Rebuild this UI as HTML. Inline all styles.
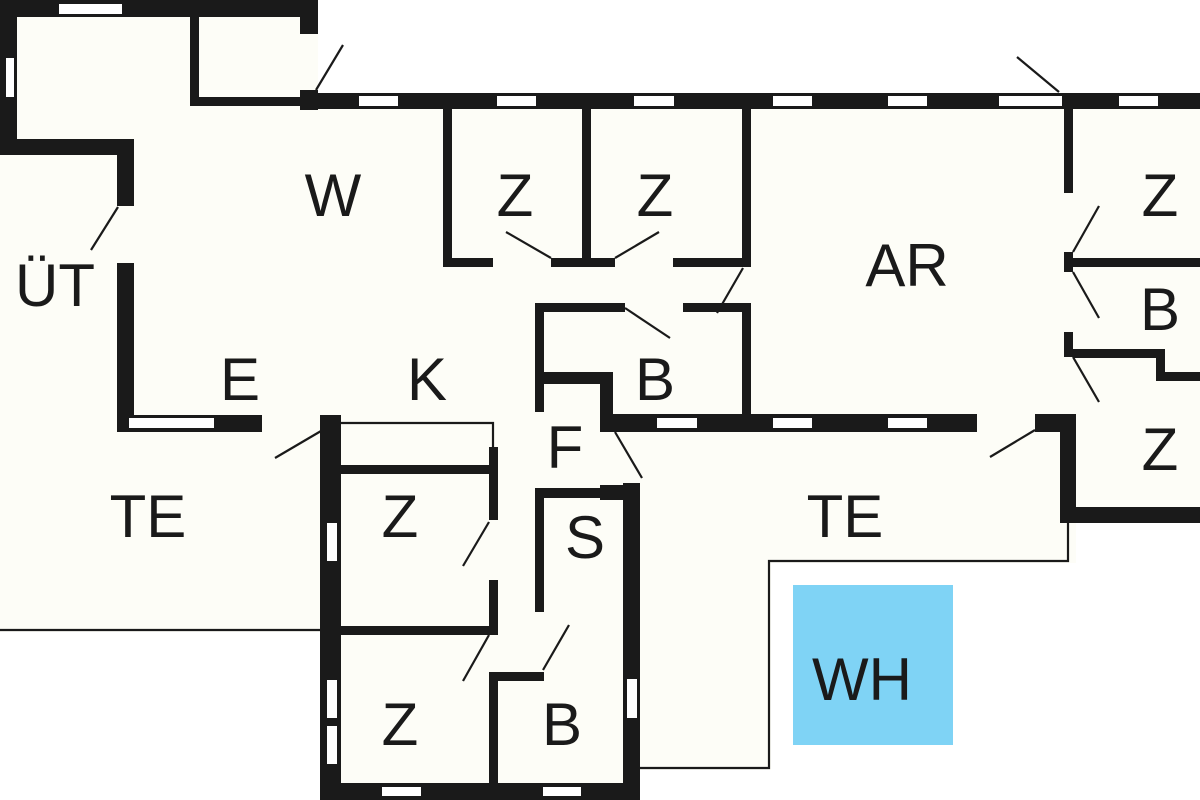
<!DOCTYPE html>
<html><head><meta charset="utf-8"><style>
html,body{margin:0;padding:0;background:#fff;width:1200px;height:800px;overflow:hidden}
svg{display:block}
text{font-family:"Liberation Sans",sans-serif;font-size:60px;fill:#1a1a1a;text-anchor:middle}
</style></head><body>
<svg width="1200" height="800" viewBox="0 0 1200 800" xmlns="http://www.w3.org/2000/svg">
<!-- cream interior -->
<rect x="0" y="0" width="1200" height="800" fill="#fdfdf7"/>
<rect x="318" y="0" width="882" height="93" fill="#fff"/>
<rect x="1076" y="523" width="124" height="277" fill="#fff"/>
<rect x="771" y="563" width="429" height="237" fill="#fff"/>
<rect x="0" y="632" width="320" height="168" fill="#fff"/>
<rect x="640" y="770" width="131" height="30" fill="#fff"/>
<g fill="#1a1a1a">
<!-- top-left block -->
<rect x="0" y="0" width="318" height="17"/>
<rect x="300" y="0" width="18" height="34"/>
<rect x="0" y="0" width="17" height="155"/>
<rect x="0" y="139" width="134" height="16"/>
<rect x="117" y="139" width="17" height="67"/>
<rect x="117" y="263" width="17" height="169"/>
<rect x="117" y="415" width="145" height="17"/>
<rect x="190" y="17" width="9" height="89"/>
<rect x="190" y="97" width="110" height="9"/>
<!-- main top wall -->
<rect x="300" y="90" width="18" height="20"/>
<rect x="300" y="93" width="900" height="16"/>
<!-- Z rooms top -->
<rect x="443" y="109" width="9" height="158"/>
<rect x="443" y="258" width="50" height="9"/>
<rect x="551" y="258" width="64" height="9"/>
<rect x="582" y="109" width="9" height="158"/>
<rect x="673" y="258" width="78" height="9"/>
<rect x="742" y="109" width="9" height="158"/>
<rect x="742" y="303" width="9" height="129"/>
<!-- B box -->
<rect x="535" y="303" width="90" height="9"/>
<rect x="683" y="303" width="68" height="9"/>
<rect x="535" y="303" width="9" height="109"/>
<rect x="540" y="372" width="73" height="12"/>
<rect x="600" y="372" width="13" height="60"/>
<rect x="600" y="414" width="377" height="18"/>
<!-- AR right side -->
<rect x="1064" y="109" width="9" height="84"/>
<rect x="1064" y="252" width="9" height="20"/>
<rect x="1073" y="258" width="127" height="9"/>
<rect x="1064" y="332" width="9" height="25"/>
<rect x="1073" y="349" width="92" height="9"/>
<rect x="1156" y="349" width="9" height="32"/>
<rect x="1156" y="372" width="44" height="9"/>
<rect x="1035" y="414" width="41" height="18"/>
<rect x="1060" y="414" width="16" height="109"/>
<rect x="1060" y="507" width="140" height="16"/>
<!-- left lower block -->
<rect x="320" y="415" width="21" height="385"/>
<rect x="320" y="783" width="320" height="17"/>
<rect x="341" y="465" width="157" height="9"/>
<rect x="341" y="626" width="157" height="9"/>
<rect x="489" y="447" width="9" height="73"/>
<rect x="489" y="580" width="9" height="55"/>
<rect x="489" y="672" width="9" height="111"/>
<rect x="489" y="672" width="55" height="9"/>
<!-- S -->
<rect x="535" y="488" width="9" height="124"/>
<rect x="535" y="488" width="70" height="10"/>
<rect x="600" y="485" width="23" height="15"/>
<rect x="623" y="483" width="17" height="317"/>
</g>
<!-- windows -->
<g fill="#fff">
<rect x="59" y="4" width="63" height="10"/>
<rect x="6" y="58" width="8" height="39"/>
<rect x="129" y="418" width="85" height="10"/>
<rect x="359" y="96" width="39" height="10"/>
<rect x="497" y="96" width="39" height="10"/>
<rect x="634" y="96" width="40" height="10"/>
<rect x="773" y="96" width="39" height="10"/>
<rect x="888" y="96" width="39" height="10"/>
<rect x="999" y="96" width="63" height="10"/>
<rect x="1119" y="96" width="39" height="10"/>
<rect x="657" y="418" width="40" height="10"/>
<rect x="773" y="418" width="39" height="10"/>
<rect x="888" y="418" width="39" height="10"/>
<rect x="327" y="523" width="10" height="38"/>
<rect x="327" y="680" width="10" height="38"/>
<rect x="327" y="726" width="10" height="38"/>
<rect x="382" y="787" width="39" height="9"/>
<rect x="543" y="787" width="38" height="9"/>
<rect x="627" y="679" width="10" height="39"/>
</g>
<!-- thin lines -->
<g stroke="#1a1a1a" stroke-width="2.2" fill="none">
<polyline points="341,423 493,423 493,447"/>
<polyline points="0,630 320,630"/>
<polyline points="1068,523 1068,561 769,561 769,768 640,768"/>
<line x1="316" y1="90" x2="343" y2="45"/>
<line x1="91" y1="250" x2="118" y2="207"/>
<line x1="506" y1="232" x2="551" y2="258"/>
<line x1="615" y1="258" x2="659" y2="232"/>
<line x1="717" y1="313" x2="743" y2="268"/>
<line x1="625" y1="308" x2="670" y2="338"/>
<line x1="1017" y1="57" x2="1059" y2="92"/>
<line x1="1073" y1="252" x2="1099" y2="206"/>
<line x1="1073" y1="272" x2="1099" y2="318"/>
<line x1="1073" y1="357" x2="1099" y2="402"/>
<line x1="990" y1="457" x2="1035" y2="430"/>
<line x1="615" y1="432" x2="642" y2="478"/>
<line x1="275" y1="458" x2="321" y2="431"/>
<line x1="463" y1="566" x2="489" y2="522"/>
<line x1="463" y1="681" x2="489" y2="635"/>
<line x1="543" y1="670" x2="569" y2="625"/>
</g>
<rect x="793" y="585" width="160" height="160" fill="#7fd3f5"/>
<text x="333" y="216">W</text>
<text x="515" y="216">Z</text>
<text x="655" y="216">Z</text>
<text x="907" y="286">AR</text>
<text x="1160" y="216">Z</text>
<text x="1160" y="330">B</text>
<text x="1160" y="470">Z</text>
<text x="55" y="306">ÜT</text>
<text x="240" y="400">E</text>
<text x="427" y="400">K</text>
<text x="655" y="400">B</text>
<text x="565" y="468">F</text>
<text x="148" y="537">TE</text>
<text x="845" y="537">TE</text>
<text x="400" y="537">Z</text>
<text x="585" y="558">S</text>
<text x="400" y="745">Z</text>
<text x="562" y="745">B</text>
<text x="862" y="700">WH</text>
</svg>
</body></html>
